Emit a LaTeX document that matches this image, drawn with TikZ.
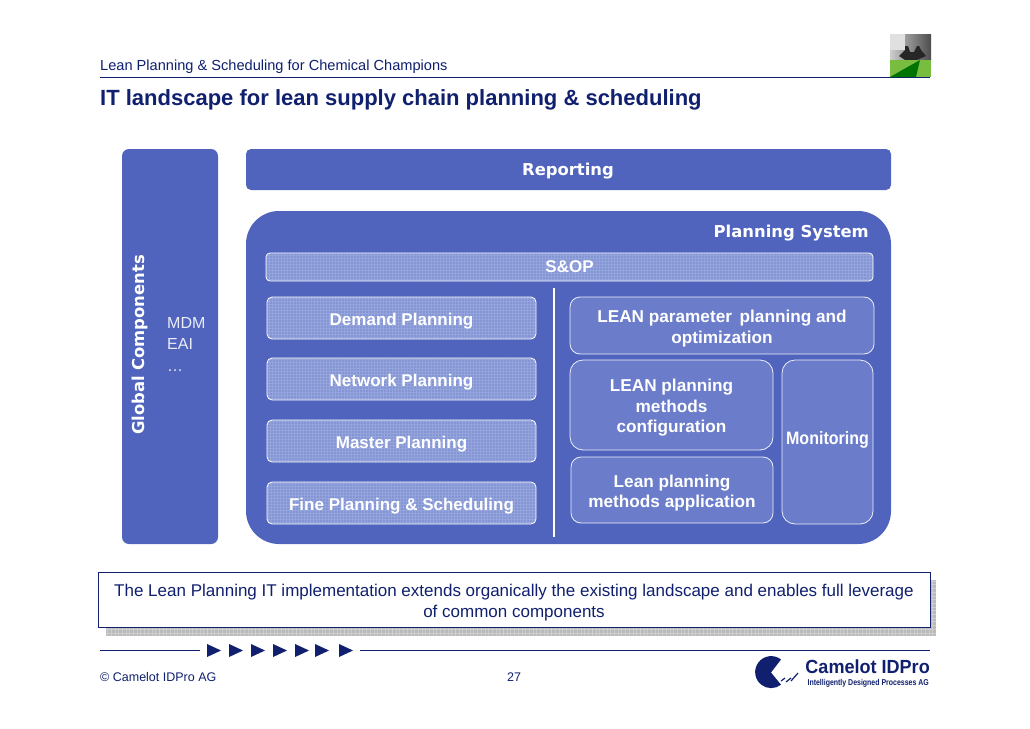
\documentclass[tikz,border=0pt]{standalone}
\usepackage{fontspec}
\setmainfont{Liberation Sans}
\newfontfamily\widefont{DejaVu Sans}
\definecolor{navy}{HTML}{10206E}
\definecolor{panel}{HTML}{5064BE}
\definecolor{soft}{HTML}{8495D6}
\definecolor{softb}{HTML}{6A7CCA}
\newcommand{\topline}{\rule{0pt}{18.5pt}}
\begin{document}
\begin{tikzpicture}[
  x=1pt,y=-1pt,
  panelbox/.style={fill=panel,draw=none,rounded corners=#1},
  panelbox/.default=7pt,
  hatched/.style={draw=white,line width=0.8pt,fill=soft,rounded corners=5pt,text=white,font=\bfseries\fontsize{17}{20}\selectfont,align=center,inner sep=0pt,
    path picture={\draw[white,opacity=.15,line width=.5pt,step=3pt] (path picture bounding box.south west) grid (path picture bounding box.north east);}},
  lean/.style={draw=white!90!panel,line width=0.8pt,fill=softb,rounded corners=10pt,text=white,font=\bfseries\fontsize{17.2}{20.5}\selectfont,align=center,inner sep=0pt},
  tag/.style={text=white,font=\widefont\bfseries\fontsize{16.4}{19}\selectfont,inner sep=0pt},
  every node/.style={text=navy}
]
  \useasboundingbox (0,0) rectangle (1030,728);
  \fill[white] (0,0) rectangle (1030,728);

  % header
  \node[anchor=west,inner sep=0pt,font=\fontsize{14.6}{17}\selectfont] (head) at (100,67) {Lean Planning \& Scheduling for Chemical Champions};
  \draw[navy,line width=1pt] (100,77.5)--(930,77.5);
  \node[anchor=west,inner sep=0pt,font=\bfseries\fontsize{22}{26}\selectfont] (title) at (100,100) {IT landscape for lean supply chain planning \& scheduling};

  % small picture top right
  \shade[left color=black!20,right color=black!70] (890,34) rectangle (931,60);
  \fill[black!12] (890,34) rectangle (905,50);
  \fill[black!85] (899,56)--(905,50)--(905,46)--(908,46)--(910,52)--(914,52)--(917,46)--(919,46)--(921,50)--(926,56)--(917,60)--(905,60)--cycle;
  \fill[green!55!yellow!65!black!75] (890,60) rectangle (931,77);
  \fill[green!45!black] (890,77)--(920,60)--(916,77)--cycle;

  % global components
  \node[panelbox,minimum width=96pt,minimum height=395pt] (global) at (170,346.5) {};
  \node[tag,rotate=90] (globaltxt) at (140,345) {Global Components};
  \node[anchor=north west,inner sep=0pt,align=left,text=white!88!panel,font=\fontsize{16}{21.5}\selectfont] (mdm) at (167,317) {MDM\\EAI\\…};

  % reporting
  \node[panelbox=5pt,minimum width=645pt,minimum height=41pt] (reporting) at (568.5,169.5) {};
  \node[tag] (reportingtxt) at (568,171) {Reporting};

  % planning system
  \node[panelbox=33pt,minimum width=645pt,minimum height=333pt] (system) at (568.5,377.5) {};
  \node[tag,anchor=east] (systemtxt) at (869,233) {Planning System};

  \node[hatched,rounded corners=4pt,minimum width=607pt,minimum height=28pt] (sop) at (569.5,267) {S\&OP};
  \node[hatched,minimum width=269pt,minimum height=42pt] (demand) at (401.5,318) {\topline Demand Planning};
  \node[hatched,minimum width=269pt,minimum height=42pt] (network) at (401.5,379) {\topline Network Planning};
  \node[hatched,minimum width=269pt,minimum height=42pt] (master) at (401.5,441) {\topline Master Planning};
  \node[hatched,minimum width=269pt,minimum height=42pt] (fine) at (401.5,503) {\topline Fine Planning \& Scheduling};

  \coordinate (divtop) at (554,288);
  \coordinate (divbot) at (554,537);
  \draw[white,line width=1.4pt] (divtop)--(divbot);

  \node[lean,minimum width=304pt,minimum height=57pt] (param) at (722,325.5) {\topline LEAN parameter\, planning and\\optimization};
  \node[lean,minimum width=203pt,minimum height=90pt,rounded corners=13pt] (config) at (671.5,405) {\topline LEAN planning\\methods\\configuration};
  \node[lean,minimum width=202pt,minimum height=66pt] (apply) at (672,490) {\topline Lean planning\\methods application};
  \node[lean,minimum width=91pt,minimum height=164pt,rounded corners=13pt,font=\bfseries\fontsize{18}{20}\selectfont] (monitor) at (827.5,442) {\raisebox{2pt}[\height][\depth]{\scalebox{.89}[1]{Monitoring}}};

  % conclusion box
  \fill[black!27,path picture={\draw[white,opacity=.3,line width=.4pt,step=3.7pt] (path picture bounding box.south west) grid (path picture bounding box.north east);}] (106,580) rectangle (936,636);
  \node[draw=navy,line width=1pt,fill=white,minimum width=832pt,minimum height=55pt,inner sep=0pt,align=center,font=\fontsize{17}{21}\selectfont] (claim) at (514,599.5)
    {\topline The Lean Planning IT implementation extends organically the existing landscape and enables full leverage\\of common components};

  % footer
  \draw[navy,line width=1pt] (100,650.5)--(200,650.5);
  \draw[navy,line width=1pt] (360,650.5)--(930,650.5);
  \foreach \x in {207,229,251,273,295,315,339}
    \fill[navy] (\x,644)--(\x+14,650.5)--(\x,657)--cycle;
  \node[anchor=west,inner sep=0pt,font=\fontsize{12.5}{15}\selectfont] (copy) at (100,677) {© Camelot IDPro AG};
  \node[inner sep=0pt,font=\fontsize{12.5}{15}\selectfont] (page) at (514,677) {27};

  % logo
  \fill[navy] (781,659.5) arc[start angle=52,end angle=308,radius=16pt] -- (771,672.5) -- cycle;
  \draw[navy,line width=1.2pt] (781,681)--(785,678) (786,682)--(791,678) (791,681)--(798,673);
  \node[anchor=east,inner sep=0pt,font=\bfseries\fontsize{19}{22}\selectfont] (brand) at (930,667) {\scalebox{.95}[1]{Camelot IDPro}};
  \node[anchor=east,inner sep=0pt,font=\bfseries\fontsize{8.5}{10}\selectfont] (brandsub) at (929,683) {\scalebox{.82}[1]{Intelligently Designed Processes AG}};
\end{tikzpicture}
\end{document}
